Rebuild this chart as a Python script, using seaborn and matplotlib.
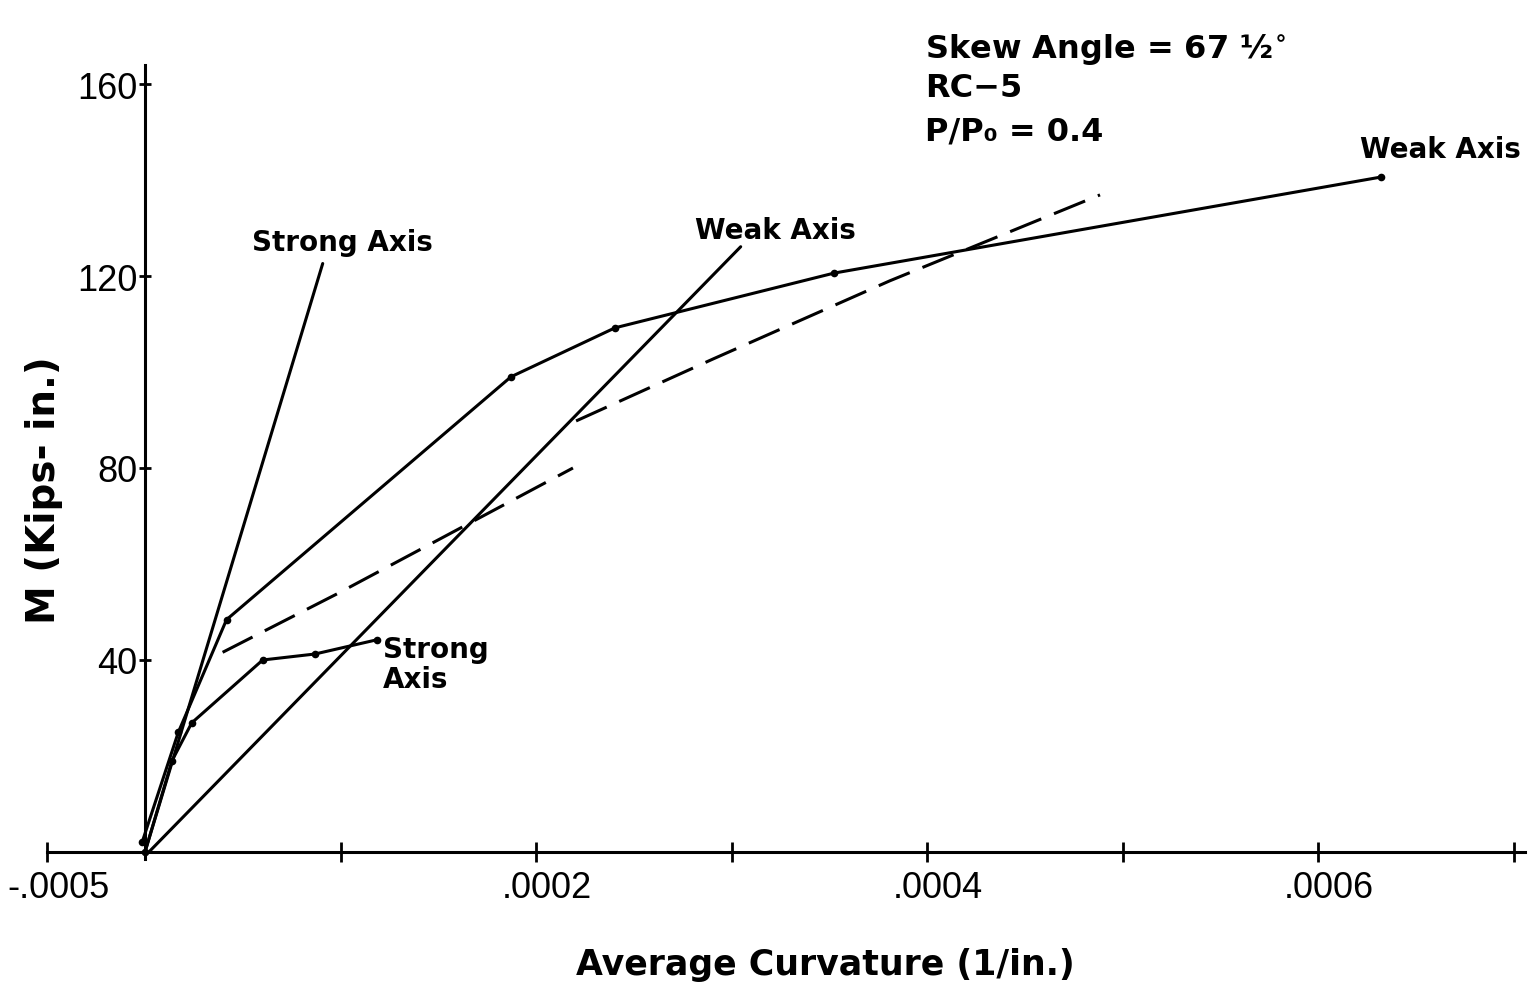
import numpy as np
import pandas as pd
import matplotlib
matplotlib.use("Agg")
import matplotlib.pyplot as plt
import matplotlib.transforms as mtransforms
import seaborn as sns

# ---------------- data (curvature in 1/in., moment in kips-in.) ----------------
strong_theory_x = [0.0, 0.0000909]
strong_theory_y = [0.0, 122.6]

weak_theory_x = [0.000002, 0.0003047]
weak_theory_y = [0.0, 126.1]

weak_test_x = [-0.0000015, 0.000017, 0.0000417, 0.0001872, 0.0002404, 0.0003524, 0.000632]
weak_test_y = [2.0, 24.9, 48.4, 99.0, 109.2, 120.6, 140.6]

strong_test_x = [0.0, 0.0000138, 0.0000239, 0.0000602, 0.000087, 0.0001185]
strong_test_y = [0.0, 19.0, 26.9, 40.0, 41.25, 44.2]

strong_dash_x = [0.0000397, 0.0000981, 0.0002189]
strong_dash_y = [41.6, 53.75, 80.0]

weak_dash_x = [0.0002205, 0.0002905, 0.000381, 0.0004885]
weak_dash_y = [89.8, 102.7, 119.0, 136.9]

x_ticks = [-0.00005, 0.0001, 0.0002, 0.0003, 0.0004, 0.0005, 0.0006, 0.0007]
x_tick_labels = ["-.0005", "", ".0002", "", ".0004", "", ".0006", ""]
y_ticks = [40, 80, 120, 160]
y_tick_labels = ["40", "80", "120", "160"]

# ---------------- figure ----------------
sns.set_theme(style="white")
plt.rcParams["font.family"] = ["DejaVu Sans"]
plt.rcParams["mathtext.fontset"] = "dejavusans"
plt.rcParams["text.color"] = "black"

fig = plt.figure(figsize=(15.32, 9.87), dpi=100)
ax = fig.add_axes([0, 0, 1, 1])
ax.set_facecolor("white")

lw = 2.2
kw_line = dict(color="black", linewidth=lw, sort=False, estimator=None, ax=ax, legend=False)

sns.lineplot(x=strong_theory_x, y=strong_theory_y, **kw_line)
sns.lineplot(x=weak_theory_x, y=weak_theory_y, **kw_line)
sns.lineplot(x=weak_test_x, y=weak_test_y, marker="o", markersize=5.5,
             markeredgewidth=0, markerfacecolor="black", **kw_line)
sns.lineplot(x=strong_test_x, y=strong_test_y, marker="o", markersize=5.5,
             markeredgewidth=0, markerfacecolor="black", **kw_line)
for dx, dy in [(strong_dash_x, strong_dash_y), (weak_dash_x, weak_dash_y)]:
    l = sns.lineplot(x=dx, y=dy, **kw_line)
    l.lines[-1].set_dashes((11, 4.5))

# ---------------- axes ----------------
ax.set_xlim(-0.00007417, 0.00070946)
ax.set_ylim(-27.92, 177.71)

for s in ["top", "right"]:
    ax.spines[s].set_visible(False)
ax.spines["left"].set_position(("data", 0))
ax.spines["bottom"].set_position(("data", 0))
ax.spines["left"].set_bounds(-1.5, 164)
ax.spines["bottom"].set_bounds(-0.00005, 0.000706)
for s in ["left", "bottom"]:
    ax.spines[s].set_linewidth(2.2)
    ax.spines[s].set_color("black")

ax.set_xticks(x_ticks)
ax.set_xticklabels(x_tick_labels)
ax.set_yticks(y_ticks)
ax.set_yticklabels(y_tick_labels)
ax.tick_params(axis="x", direction="inout", length=14, width=2, color="black",
               labelcolor="black", pad=6, bottom=True, labelsize=26)
ax.tick_params(axis="y", direction="inout", length=9, width=2, color="black",
               labelcolor="black", pad=1, left=True, labelsize=26)
offset = mtransforms.ScaledTranslation(11 / 100, 0, fig.dpi_scale_trans)
for lbl in ax.get_xticklabels():
    lbl.set_fontfamily("Liberation Sans")
    lbl.set_transform(lbl.get_transform() + offset)
for lbl in ax.get_yticklabels():
    lbl.set_fontfamily("Liberation Sans")

# axis titles
ax.text(0.0003478, -23.3, "Average Curvature (1/in.)", fontsize=25, fontweight="bold",
        ha="center", va="center", color="black")
ax.text(-0.0000517, 75.6, "M (Kips- in.)", fontsize=28, fontweight="bold", rotation=90,
        ha="center", va="center", color="black")

# annotations
ann = dict(fontsize=23, fontweight="bold", ha="left", va="baseline", color="black")
ax.text(0.000399, 165.6, "Skew Angle = 67 ½$^{\\mathbf{\\circ}}$", **ann)
ax.text(0.000399, 157.5, "RC−5", **ann)
ax.text(0.000399, 148.5, "P/P₀ = 0.4", **ann)

lab = dict(fontsize=20, fontweight="bold", color="black")
ax.text(0.0006624, 146.5, "Weak Axis", ha="center", va="center", **lab)
ax.text(0.0003223, 129.6, "Weak Axis", ha="center", va="center", **lab)
ax.text(0.0001008, 127.1, "Strong Axis", ha="center", va="center", **lab)
ax.text(0.0001217, 45.2, "Strong\nAxis", ha="left", va="top", linespacing=1.1, **lab)

fig.savefig("out.png", dpi=100, facecolor="white")
